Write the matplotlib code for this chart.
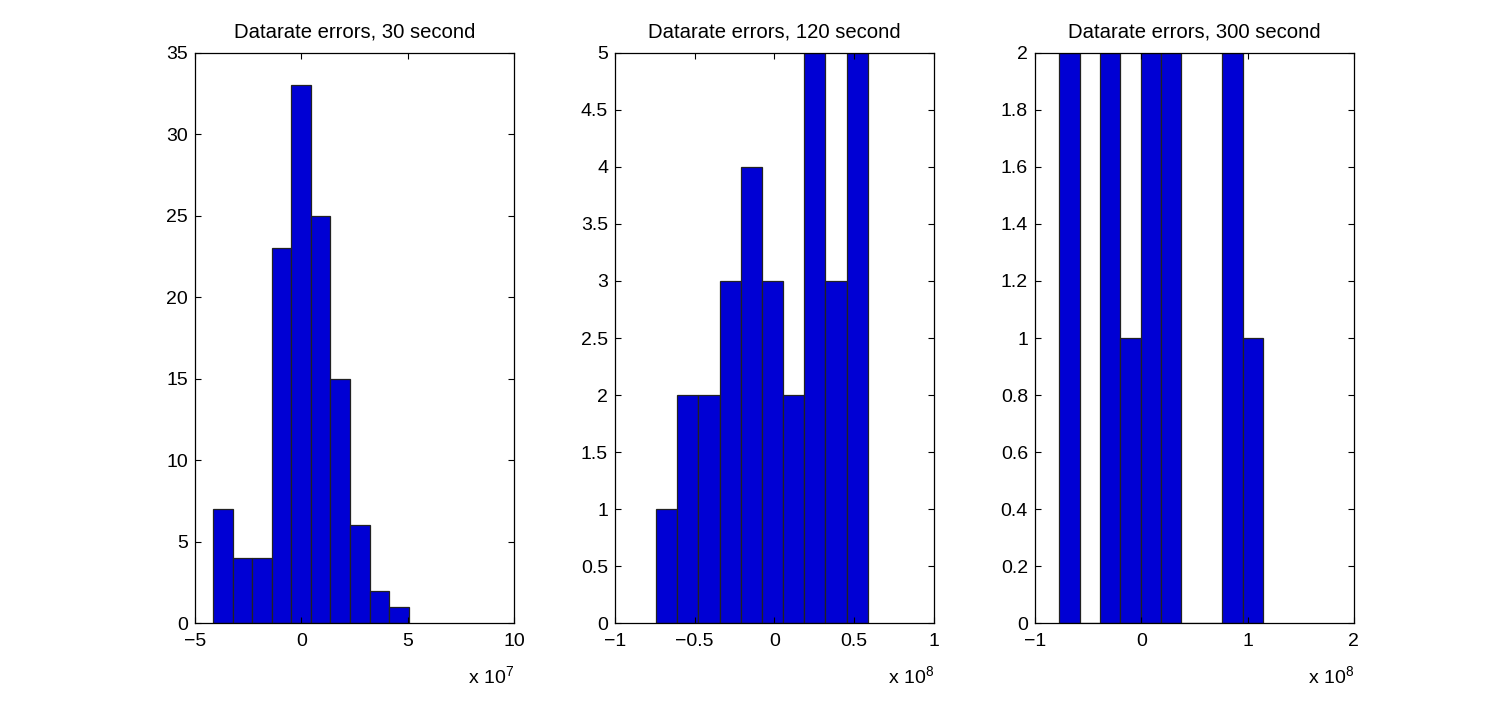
import numpy as np
import matplotlib
matplotlib.use("Agg")
import matplotlib.pyplot as plt
from matplotlib.ticker import FuncFormatter

plt.rcParams['font.family'] = ['Liberation Sans', 'DejaVu Sans']
plt.rcParams['mathtext.fontset'] = 'custom'
plt.rcParams['mathtext.rm'] = 'Liberation Sans'
plt.rcParams['mathtext.it'] = 'Liberation Sans'

# Data (bin range in units of the panel's exponent, and counts per bin)
titles = ["Datarate errors, 30 second", "Datarate errors, 120 second", "Datarate errors, 300 second"]
exponents = [7, 8, 8]

bins1_range = (-4.14, 5.05)
counts1 = [7, 4, 4, 23, 33, 25, 15, 6, 2, 1]

bins2_range = (-0.743, 0.585)
counts2 = [1, 2, 2, 3, 4, 3, 2, 5, 3, 5]

bins3_range = (-0.771, 1.145)
counts3 = [2, 0, 2, 1, 2, 2, 0, 0, 2, 1]

xticks = [[-5, 0, 5, 10], [-1, -0.5, 0, 0.5, 1], [-1, 0, 1, 2]]
yticks = [np.arange(0, 35.1, 5), np.arange(0, 5.01, 0.5), np.arange(0, 2.001, 0.2)]
xlims = [(-5, 10), (-1, 1), (-1, 2)]
ylims = [(0, 35), (0, 5), (0, 2)]

ranges = [bins1_range, bins2_range, bins3_range]
counts = [counts1, counts2, counts3]

fig = plt.figure(figsize=(14.96, 7.02), dpi=100)
lefts = [0.1303, 0.4111, 0.6918]
fmt = FuncFormatter(lambda v, p: ("%g" % round(v, 6)).replace('-', '\u2212'))

for i in range(3):
    ax = fig.add_axes([lefts[i], 0.1121, 0.2132, 0.8128])
    c = np.array(counts[i], dtype=float)
    edges = np.linspace(ranges[i][0], ranges[i][1], len(c) + 1)
    centers = (edges[:-1] + edges[1:]) / 2
    ax.hist(centers, bins=edges, weights=c, color='#0000d4',
            edgecolor='#222222', linewidth=0.9)
    ax.set_xlim(*xlims[i])
    ax.set_ylim(*ylims[i])
    ax.set_xticks(xticks[i])
    ax.set_yticks(yticks[i])
    ax.xaxis.set_major_formatter(fmt)
    ax.yaxis.set_major_formatter(fmt)
    ax.tick_params(direction='in', length=4.5, width=0.8, labelsize=14,
                   top=True, right=True)
    ax.tick_params(axis='x', pad=7)
    ax.tick_params(axis='y', pad=5)
    for s in ax.spines.values():
        s.set_linewidth(0.9)
    ax.set_title(titles[i], fontsize=14.6, pad=11)
    ax.text(1.0, -0.105, r'x 10$^{%d}$' % exponents[i], transform=ax.transAxes,
            ha='right', va='baseline', fontsize=14)

fig.savefig("out.png", dpi=100)
